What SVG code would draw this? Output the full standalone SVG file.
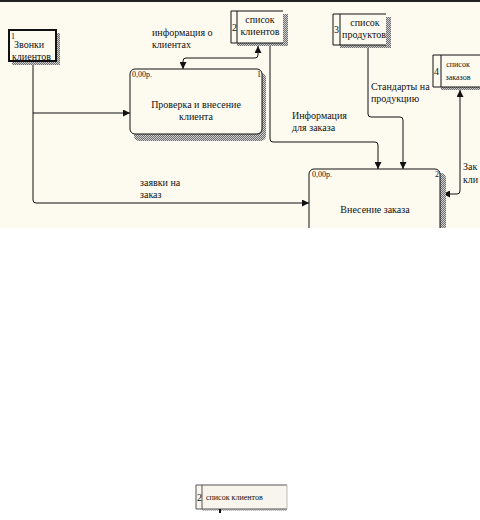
<svg xmlns="http://www.w3.org/2000/svg" width="480" height="520" viewBox="0 0 480 520" font-family="'Liberation Serif', 'Times New Roman', serif">
<style>
text{font-family:'Liberation Serif','Times New Roman',serif}
.t{font-size:10px;fill:#111}
.s{font-size:8px;fill:#111}
.ln{fill:none;stroke:#111;stroke-width:1}
.bx{fill:#fdfbf0;stroke:#111;stroke-width:1}
.hat{fill:url(#hatch)}
</style>
<defs>
<pattern id="hatch" width="2" height="2" patternUnits="userSpaceOnUse">
<rect width="2" height="2" fill="#cfcfcf"/>
<path d="M0,2 L2,0" stroke="#555" stroke-width="0.8"/>
</pattern>
<marker id="ar" viewBox="0 0 8 8" refX="8" refY="4" markerWidth="7" markerHeight="7" markerUnits="userSpaceOnUse" orient="auto-start-reverse">
<path d="M0,0 L8,4 L0,8 Z" fill="#111"/>
</marker>
<clipPath id="top"><rect x="0" y="0" width="480" height="228"/></clipPath>
</defs>
<rect x="0" y="0" width="480" height="520" fill="#ffffff"/>
<rect x="0" y="0" width="480" height="228" fill="#fdfbf0"/>
<rect x="0" y="0" width="480" height="2" fill="#222"/>

<g id="connectors">
<path class="ln" d="M33,62 V200 Q33,203 36,203 H309" marker-end="url(#ar)"/>
<path class="ln" d="M33,113 H130" marker-end="url(#ar)"/>
<path class="ln" d="M183,69 V61 Q183,58 186,58 H255 Q258,58 258,55 V46" marker-start="url(#ar)" marker-end="url(#ar)"/>
<path class="ln" d="M270,46 V139 Q270,142 273,142 H375 Q378,142 378,145 V169" marker-end="url(#ar)"/>
<path class="ln" d="M368,48 V114 Q368,117 371,117 H400 Q403,117 403,120 V169" marker-end="url(#ar)"/>
<path class="ln" d="M460,90 V191 Q460,194 457,194 H443" marker-start="url(#ar)" marker-end="url(#ar)"/>
<text class="t" x="152" y="36">информация о</text>
<text class="t" x="152" y="48">клиентах</text>
<text class="t" x="292" y="119">Информация</text>
<text class="t" x="292" y="131">для заказа</text>
<text class="t" x="371" y="90">Стандарты на</text>
<text class="t" x="371" y="102">продукцию</text>
<text class="t" x="140" y="186">заявки на</text>
<text class="t" x="140" y="198">заказ</text>
<text class="t" x="463" y="170">Зак</text>
<text class="t" x="463" y="183">кли</text>
</g>

<g id="entity1">
<rect class="hat" x="56" y="33" width="4" height="32"/>
<rect class="hat" x="12" y="61" width="48" height="4"/>
<rect x="9" y="30" width="47" height="31" fill="#fdfbf0" stroke="#111" stroke-width="2"/>
<text class="s" x="11" y="39">1</text>
<text class="t" x="14" y="48">Звонки</text>
<text class="t" x="12" y="60">клиентов</text>
</g>

<g id="process1">
<rect class="hat" x="134" y="73" width="132" height="68" rx="5"/>
<rect class="bx" x="130" y="69" width="132" height="65" rx="5"/>
<text class="s" x="132" y="77">0,00р.</text>
<text class="s" x="257" y="77">1</text>
<text class="t" x="196" y="108" text-anchor="middle">Проверка и внесение</text>
<text class="t" x="196" y="120" text-anchor="middle">клиента</text>
</g>

<g id="process2" clip-path="url(#top)">
<rect class="hat" x="313" y="173" width="133" height="70" rx="5"/>
<rect class="bx" x="309" y="169" width="131" height="70" rx="5"/>
<text class="s" x="312" y="177">0,00р.</text>
<text class="s" x="435" y="177">2</text>
<text class="t" x="375" y="213" text-anchor="middle">Внесение заказа</text>
</g>

<g id="store2">
<rect class="hat" x="283" y="14" width="5" height="32"/>
<rect class="hat" x="237" y="43" width="51" height="3"/>
<rect x="231" y="11" width="52" height="32" fill="#fdfbf0"/>
<path class="ln" d="M283,11 H231 V43 H283 M237,11 V43"/>
<text class="t" x="232" y="31">2</text>
<text class="t" x="260" y="23" text-anchor="middle">список</text>
<text class="t" x="260" y="35" text-anchor="middle">клиентов</text>
</g>

<g id="store3">
<rect class="hat" x="386" y="17" width="5" height="31"/>
<rect class="hat" x="340" y="45" width="51" height="3"/>
<rect x="333" y="14" width="53" height="31" fill="#fdfbf0"/>
<path class="ln" d="M386,14 H333 V45 H386 M340,14 V45"/>
<text class="t" x="334" y="33">3</text>
<text class="t" x="365" y="26" text-anchor="middle">список</text>
<text class="t" x="364" y="38" text-anchor="middle">продуктов</text>
</g>

<g id="store4">
<rect class="hat" x="441" y="87" width="39" height="3"/>
<rect x="433" y="55" width="47" height="32" fill="#fdfbf0"/>
<path class="ln" d="M480,55 H433 V87 H480 M441,55 V87"/>
<text class="t" x="434" y="75">4</text>
<text class="s" x="458" y="67" text-anchor="middle">список</text>
<text class="s" x="458" y="80" text-anchor="middle">заказов</text>
</g>

<g id="store2-copy">
<rect x="196" y="485" width="91" height="24" fill="#f8f6ec"/>
<rect class="hat" x="202" y="509" width="85" height="2" opacity="0.5"/>
<path d="M287,485 H196 V509 H287" fill="none" stroke="#555" stroke-width="1"/>
<path d="M202,485 V509" stroke="#555" stroke-width="1"/>
<path d="M287,485 V509" stroke="#bbb" stroke-width="1"/>
<text class="t" x="197" y="501" font-size="9">2</text>
<text class="s" x="206" y="500">список клиентов</text>
<path d="M220,509 V513" stroke="#111" stroke-width="2"/>
</g>
</svg>
